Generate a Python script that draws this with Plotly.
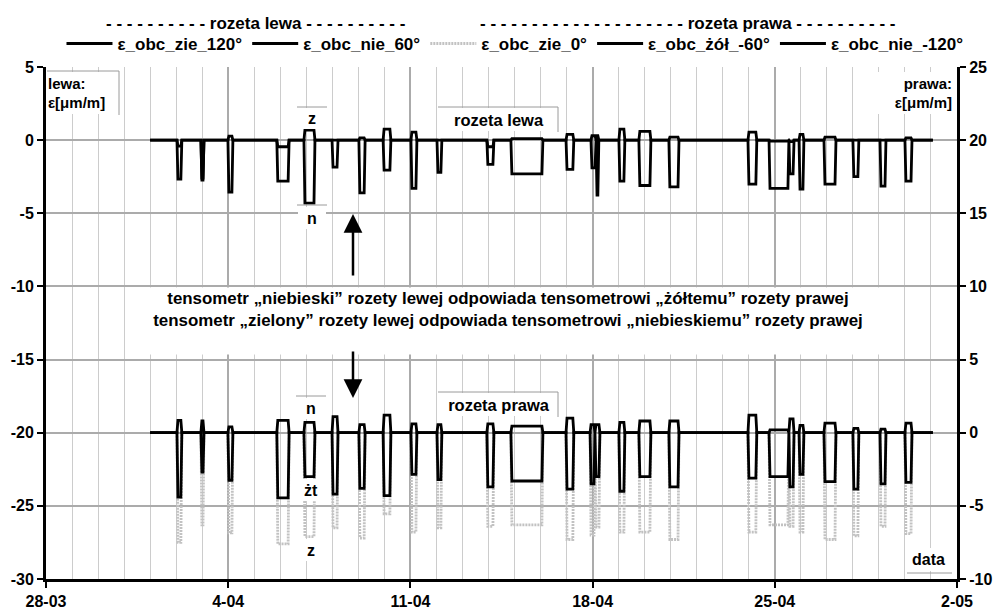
import pandas as pd
import plotly.graph_objects as go

FONT = "Liberation Sans, Arial, sans-serif"

# ---- data -------------------------------------------------------------
BASE_START = "2009-04-01 00:00"
BASE_END = "2009-05-01 01:45"

# left rosette (left axis) – load pulses
left_start = ["2009-04-02 00:45", "2009-04-02 22:50", "2009-04-03 23:45", "2009-04-05 20:50",
              "2009-04-06 21:50", "2009-04-07 23:45", "2009-04-09 00:30", "2009-04-09 22:50",
              "2009-04-11 00:30", "2009-04-12 00:30", "2009-04-13 22:30", "2009-04-14 20:40",
              "2009-04-16 23:30", "2009-04-17 22:30", "2009-04-18 03:10", "2009-04-19 00:15",
              "2009-04-19 18:40", "2009-04-20 22:20", "2009-04-23 23:15", "2009-04-24 18:40",
              "2009-04-25 13:00", "2009-04-25 22:20", "2009-04-26 21:20", "2009-04-28 00:00",
              "2009-04-29 01:00", "2009-04-30 00:00"]
left_end = ["2009-04-02 05:15", "2009-04-03 01:40", "2009-04-04 04:20", "2009-04-06 08:10",
            "2009-04-07 08:00", "2009-04-08 05:15", "2009-04-09 06:15", "2009-04-10 06:00",
            "2009-04-11 06:00", "2009-04-12 05:00", "2009-04-14 05:00", "2009-04-16 02:10",
            "2009-04-17 06:40", "2009-04-18 03:10", "2009-04-18 05:45", "2009-04-19 05:45",
            "2009-04-20 05:45", "2009-04-21 07:40", "2009-04-24 07:25", "2009-04-25 13:00",
            "2009-04-25 17:45", "2009-04-26 02:50", "2009-04-27 08:25", "2009-04-28 05:30",
            "2009-04-29 06:30", "2009-04-30 06:30"]
zie_120 = [-0.41, -2.6, 0.27, -0.45, 0.68, -0.05, 0.15, 0.75, 0.55, -0.05, -0.45, 0.1, 0.4,
           0.3, 0.3, 0.75, 0.6, 0.2, 0.55, -0.07, -0.1, 0.4, 0.2, -0.05, -0.05, 0.15]
nie_60 = [-2.67, -2.73, -3.55, -2.8, -4.3, -1.85, -3.6, -2.05, -3.3, -2.2, -1.65, -2.3, -2.0,
          -1.9, -3.75, -2.8, -3.1, -3.2, -3.0, -3.3, -2.3, -3.35, -3.0, -2.5, -3.15, -2.8]

# right rosette (right axis) – load pulses
right_start = ["2009-04-02 00:45", "2009-04-02 22:50", "2009-04-03 23:45", "2009-04-05 20:50",
               "2009-04-06 21:50", "2009-04-07 23:45", "2009-04-09 00:30", "2009-04-09 22:50",
               "2009-04-11 00:30", "2009-04-12 00:30", "2009-04-13 22:30", "2009-04-14 20:40",
               "2009-04-16 23:30", "2009-04-17 21:40", "2009-04-18 02:10", "2009-04-19 00:15",
               "2009-04-19 18:40", "2009-04-20 22:20", "2009-04-23 23:15", "2009-04-24 18:40",
               "2009-04-25 13:00", "2009-04-25 22:20", "2009-04-26 21:20", "2009-04-28 00:00",
               "2009-04-29 01:00", "2009-04-30 00:00"]
right_end = ["2009-04-02 05:15", "2009-04-03 01:40", "2009-04-04 04:20", "2009-04-06 08:10",
             "2009-04-07 08:00", "2009-04-08 05:15", "2009-04-09 06:15", "2009-04-10 06:00",
             "2009-04-11 06:00", "2009-04-12 05:00", "2009-04-14 05:00", "2009-04-16 02:10",
             "2009-04-17 06:40", "2009-04-18 02:10", "2009-04-18 06:45", "2009-04-19 05:45",
             "2009-04-20 05:45", "2009-04-21 07:40", "2009-04-24 07:25", "2009-04-25 13:00",
             "2009-04-25 17:45", "2009-04-26 02:50", "2009-04-27 08:25", "2009-04-28 05:30",
             "2009-04-29 06:30", "2009-04-30 06:30"]
nie_m120 = [0.85, 0.8, 0.4, 0.85, 0.7, 1.1, 0.55, 1.2, 0.6, 0.55, 0.6, 0.45, 1.0,
            0.55, 0.55, 0.7, 0.8, 0.8, 1.2, 0.2, 0.95, 0.5, 0.65, 0.3, 0.25, 0.65]
zol_m60 = [-4.4, -2.7, -3.25, -4.45, -3.0, -4.2, -3.8, -4.3, -2.85, -3.2, -3.7, -3.3, -3.85,
           -3.5, -3.0, -4.0, -3.0, -3.7, -3.1, -3.0, -3.7, -2.85, -3.35, -3.85, -3.5, -3.4]
zie_0 = [-7.5, -6.3, -6.85, -7.6, -7.1, -6.5, -7.2, -5.55, -6.8, -6.5, -6.4, -6.3, -7.3,
         -7.0, -6.45, -6.8, -6.8, -7.3, -6.8, -6.3, -6.4, -6.8, -7.3, -7.05, -6.4, -6.9]

# axis tick labels
left_ticks = [-30, -25, -20, -15, -10, -5, 0, 5]
left_labels = ["-30", "-25", "-20", "-15", "-10", "-5", "0", "5"]
right_ticks = [-10, -5, 0, 5, 10, 15, 20, 25]
right_labels = ["-10", "-5", "0", "5", "10", "15", "20", "25"]

RAMP_HOURS = 0.9


def build(starts, ends, vals):
    r = pd.Timedelta(hours=RAMP_HOURS)
    xs = [pd.Timestamp(BASE_START)]
    ys = [0.0]
    for s, e, v in zip(starts, ends, vals):
        s = pd.Timestamp(s)
        e = pd.Timestamp(e)
        xs += [s, s + r, e - r, e]
        ys += [0.0, v, v, 0.0]
    xs.append(pd.Timestamp(BASE_END))
    ys.append(0.0)
    return xs, ys


fig = go.Figure()
LW = 2.8

# grey dotted series drawn first (behind)
x, y = build(right_start, right_end, zie_0)
fig.add_trace(go.Scatter(x=x, y=y, yaxis="y2", mode="lines", name="ε_obc_zie_0°",
                         line=dict(color="#c2c2c2", width=2.8, dash="2px,1px"), legendrank=3))
x, y = build(right_start, right_end, zol_m60)
fig.add_trace(go.Scatter(x=x, y=y, yaxis="y2", mode="lines", name="ε_obc_żół_-60°",
                         line=dict(color="black", width=LW), legendrank=4))
x, y = build(right_start, right_end, nie_m120)
fig.add_trace(go.Scatter(x=x, y=y, yaxis="y2", mode="lines", name="ε_obc_nie_-120°",
                         line=dict(color="black", width=LW), legendrank=5))
x, y = build(left_start, left_end, zie_120)
fig.add_trace(go.Scatter(x=x, y=y, mode="lines", name="ε_obc_zie_120°",
                         line=dict(color="black", width=LW), legendrank=1))
x, y = build(left_start, left_end, nie_60)
fig.add_trace(go.Scatter(x=x, y=y, mode="lines", name="ε_obc_nie_60°",
                         line=dict(color="black", width=LW), legendrank=2))

DAY = 86400000
tickfont = dict(family=FONT, size=16, color="black", weight="bold")

fig.update_layout(
    width=995, height=612,
    margin=dict(l=46, r=38, t=67, b=33),
    paper_bgcolor="white", plot_bgcolor="white",
    showlegend=True,
    legend=dict(orientation="h", x=0.017, xanchor="left", y=1.045, yanchor="middle",
                font=dict(family=FONT, size=17, color="black", weight="bold"),
                bgcolor="rgba(0,0,0,0)", traceorder="normal", itemwidth=46),
    xaxis=dict(type="date", range=["2009-03-28", "2009-05-02"],
               tick0="2009-03-28", dtick=7 * DAY, tickformat="%-d-%m",
               showgrid=True, gridcolor="#ababab", gridwidth=2,
               minor=dict(dtick=DAY, tick0="2009-03-28", showgrid=True,
                          gridcolor="#cccccc", gridwidth=1.3),
               showline=True, linecolor="black", linewidth=3,
               ticks="outside", ticklen=6, tickwidth=2, tickcolor="black",
               tickfont=tickfont, zeroline=False, automargin=False),
    yaxis=dict(range=[-30, 5], tickmode="array", tickvals=left_ticks, ticktext=left_labels,
               showgrid=True, gridcolor="#ababab",
               gridwidth=1.5, showline=True, linecolor="black", linewidth=3,
               ticks="outside", ticklen=6, tickwidth=2, tickcolor="black",
               tickfont=tickfont, zeroline=False, automargin=False),
    yaxis2=dict(range=[-10, 25], tickmode="array", tickvals=right_ticks, ticktext=right_labels,
                overlaying="y", side="right",
                showgrid=False, showline=True, linecolor="black", linewidth=3,
                ticks="outside", ticklen=6, tickwidth=2, tickcolor="black",
                tickfont=tickfont, zeroline=False, automargin=False),
)

W, H, L, T = 911.0, 512.0, 46.0, 67.0


def px(xp):
    return (xp - L) / W


def py(yp):
    return (T + H - yp) / H


ann = []


def box(text, x0, y0, x1, y1, align="center", size=15.5):
    ann.append(dict(text=text, xref="paper", yref="paper", x=px((x0 + x1) / 2), y=py((y0 + y1) / 2),
                    xanchor="center", yanchor="middle", showarrow=False,
                    width=x1 - x0 - 2, height=y1 - y0 - 2, align=align, bgcolor="white",
                    borderpad=0, borderwidth=0,
                    font=dict(family=FONT, size=size, color="black", weight="bold")))


box("lewa:<br>ε[μm/m]", 47, 71, 119, 115, align="left", size=15)
box("prawa:<br>ε[μm/m]", 876, 71, 953, 115, align="right", size=15)
box("rozeta lewa", 440, 107, 558, 132, size=16.5)
box("rozeta prawa", 440, 392, 558, 417, size=16.5)
box("z", 297, 107, 327, 130, size=16)
box("n", 297, 206, 327, 230, size=16)
box("n", 296, 397, 326, 420, size=16)
box("żt", 297, 478, 325, 502, size=16)
box("z", 297, 538, 325, 562, size=16)
box("data", 905, 547, 952, 572, size=16)
ann.append(dict(text="tensometr „niebieski” rozety lewej odpowiada tensometrowi „żółtemu” rozety prawej<br>"
                     "tensometr „zielony” rozety lewej odpowiada tensometrowi „niebieskiemu” rozety prawej",
                xref="paper", yref="paper", x=px(508), y=py(321), xanchor="center", yanchor="middle",
                showarrow=False, width=740, height=64, valign="top", borderpad=1,
                bgcolor="white", align="center",
                font=dict(family=FONT, size=16.9, color="black", weight="bold")))
# arrows
ann.append(dict(text="", xref="paper", yref="paper", x=px(353), y=py(214), ax=0, ay=63,
                showarrow=True, arrowhead=2, arrowsize=1.5, arrowwidth=2.5, arrowcolor="black"))
ann.append(dict(text="", xref="paper", yref="paper", x=px(353), y=py(398), ax=0, ay=-48,
                showarrow=True, arrowhead=2, arrowsize=1.5, arrowwidth=2.5, arrowcolor="black"))
# legend group titles
ann.append(dict(text="- - - - - - - - - - rozeta lewa - - - - - - - - - -", xref="paper", yref="paper",
                x=px(255), y=py(23), xanchor="center", yanchor="middle", showarrow=False,
                font=dict(family=FONT, size=17, color="black", weight="bold")))
ann.append(dict(text="- - - - - - - - - - - - - - - - - - - - rozeta prawa - - - - - - - - - -",
                xref="paper", yref="paper",
                x=px(687), y=py(23), xanchor="center", yanchor="middle", showarrow=False,
                font=dict(family=FONT, size=17, color="black", weight="bold")))
fig.update_layout(annotations=ann)

# text-box edge lines
edge = dict(color="#9a9a9a", width=1)
shapes = []
for (xa, ya, xb, yb) in [(47, 71, 119, 71), (119, 71, 119, 115),
                         (438, 107, 558, 107), (558, 107, 558, 132),
                         (438, 392, 558, 392), (558, 392, 558, 417),
                         (297, 107, 327, 107), (297, 205, 327, 205), (296, 396, 326, 396),
                         (907, 573, 952, 573)]:
    shapes.append(dict(type="line", xref="paper", yref="paper", x0=px(xa), y0=py(ya),
                       x1=px(xb), y1=py(yb), line=edge, layer="above"))
fig.update_layout(shapes=shapes)

fig.write_html("out.html")
